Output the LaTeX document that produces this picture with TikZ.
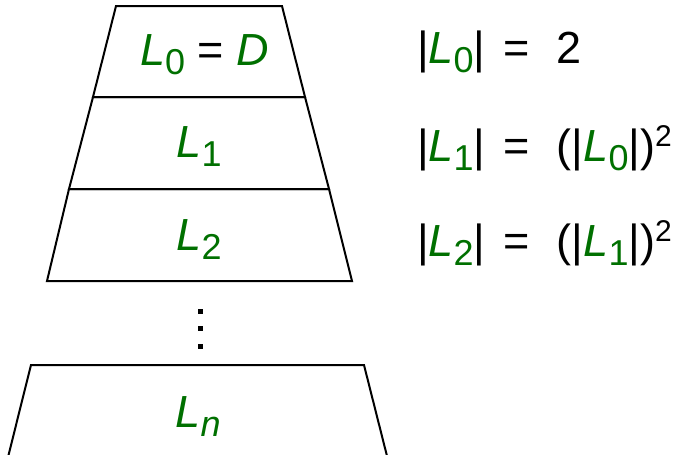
\documentclass[tikz,border=0pt]{standalone}
\usepackage{fontspec}
\setmainfont{Liberation Sans}
\definecolor{lgreen}{RGB}{0,112,0}
\newcommand{\Lsub}[1]{\textcolor{lgreen}{\textit{L}\raisebox{-9pt}{\fontsize{36}{36}\selectfont #1}}}
\newcommand{\sqtwo}{\raisebox{15pt}{\fontsize{30}{30}\selectfont 2}}
\newcommand{\eqgap}{\hspace{17.6pt}=\hspace{27.5pt}}
\begin{document}
\begin{tikzpicture}[x=1pt,y=-1pt, line width=2pt, line join=miter,
  txt/.style={font=\fontsize{45}{54}\selectfont, inner sep=0pt},
  inner line/.style={line width=2.8pt}]
\useasboundingbox (0,0) rectangle (678,455);
\clip (0,0) rectangle (678,455);
% layers
\draw (116,6) -- (282,6) -- (305,97) -- (93,97) -- cycle;
\draw (93,97) -- (305,97) -- (329,189) -- (69,189) -- cycle;
\draw (69,189) -- (329,189) -- (352,281) -- (47,281) -- cycle;
\draw[inner line] (93,97) -- (305,97);
\draw[inner line] (69,189) -- (329,189);
% dots
\fill (197.5,308.5) rectangle ++(5,5);
\fill (197.5,326) rectangle ++(5,5);
\fill (197.5,343.5) rectangle ++(5,5);
% last layer
\draw (6.8,462) -- (31,365) -- (364,365) -- (388.5,462);
% labels
\node[txt, anchor=base west] (l0) at (139,65.5) {\Lsub{0} = \textcolor{lgreen}{\textit{D}}};
\node[txt, anchor=base] (l1) at (199,157) {\Lsub{1}};
\node[txt, anchor=base] (l2) at (199,250) {\Lsub{2}};
\node[txt, anchor=base] (ln) at (198,427) {\Lsub{\textit{n}}};
% equations
\node[txt, anchor=base west] (e0) at (416,63.5) {|\Lsub{0}|\eqgap 2};
\node[txt, anchor=base west] (e1) at (416,161) {|\Lsub{1}|\eqgap(|\Lsub{0}|)\sqtwo};
\node[txt, anchor=base west] (e2) at (416,256) {|\Lsub{2}|\eqgap(|\Lsub{1}|)\sqtwo};
\end{tikzpicture}
\end{document}
